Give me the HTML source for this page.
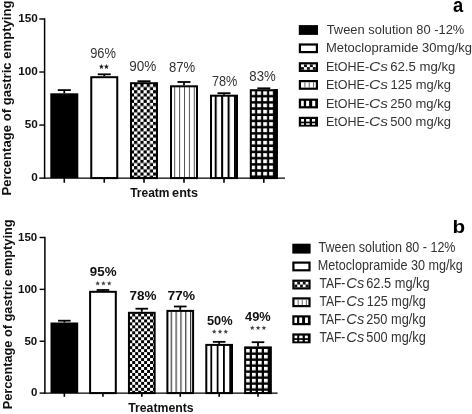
<!DOCTYPE html>
<html><head><meta charset="utf-8"><style>
html,body{margin:0;padding:0;background:#fff;}
svg{display:block;font-family:"Liberation Sans", sans-serif;filter:grayscale(1);}
</style></head><body>
<svg width="472" height="414" viewBox="0 0 472 414">
<defs>
<pattern id="chk" patternUnits="userSpaceOnUse" width="6.33" height="6.33" x="134.1" y="90.2"><rect width="6.33" height="6.33" fill="#fff"/><rect width="3.165" height="3.165" fill="#000"/><rect x="3.165" y="3.165" width="3.165" height="3.165" fill="#000"/></pattern>
<pattern id="thin" patternUnits="userSpaceOnUse" width="4.9" height="10" x="174.2" y="0"><rect width="4.9" height="10" fill="#fff"/><rect width="1" height="10" fill="#555"/></pattern>
<pattern id="thick" patternUnits="userSpaceOnUse" width="6.45" height="10" x="214.7" y="0"><rect width="6.45" height="10" fill="#fff"/><rect width="2" height="10" fill="#000"/></pattern>
<pattern id="grid" patternUnits="userSpaceOnUse" width="6.0" height="6.2" x="251.2" y="91.2"><rect width="6.0" height="6.2" fill="#000"/><rect width="3.8" height="3.7" fill="#fff"/></pattern>
<pattern id="chkB" patternUnits="userSpaceOnUse" width="5.95" height="5.95" x="132.2" y="319.4"><rect width="5.95" height="5.95" fill="#fff"/><rect width="2.975" height="2.975" fill="#000"/><rect x="2.975" y="2.975" width="2.975" height="2.975" fill="#000"/></pattern>
<pattern id="thinB" patternUnits="userSpaceOnUse" width="4.83" height="10" x="170.7" y="0"><rect width="4.83" height="10" fill="#fff"/><rect width="1.2" height="10" fill="#333"/></pattern>
<pattern id="thickB" patternUnits="userSpaceOnUse" width="6.3" height="10" x="210.4" y="0"><rect width="6.3" height="10" fill="#fff"/><rect width="1.8" height="10" fill="#000"/></pattern>
<pattern id="gridB" patternUnits="userSpaceOnUse" width="6.0" height="5.98" x="246" y="348.9"><rect width="6.0" height="5.98" fill="#000"/><rect width="3.7" height="3.5" fill="#fff"/></pattern>
<pattern id="lchk" patternUnits="userSpaceOnUse" width="4" height="4"><rect width="4" height="4" fill="#fff"/><rect width="2" height="2" fill="#000"/><rect x="2" y="2" width="2" height="2" fill="#000"/></pattern>
<pattern id="lthin" patternUnits="userSpaceOnUse" width="3.4" height="10"><rect width="3.4" height="10" fill="#fff"/><rect width="1" height="10" fill="#444"/></pattern>
<pattern id="lthick" patternUnits="userSpaceOnUse" width="4.6" height="10"><rect width="4.6" height="10" fill="#fff"/><rect width="1.6" height="10" fill="#000"/></pattern>
<pattern id="lgrid" patternUnits="userSpaceOnUse" width="4.6" height="4"><rect width="4.6" height="4" fill="#000"/><rect width="3" height="2.2" fill="#fff"/></pattern>
</defs>
<rect width="472" height="414" fill="#fff"/>
<rect x="50.30" y="93.30" width="28.00" height="84.80" fill="#000"/>
<line x1="64.30" y1="90.10" x2="64.30" y2="93.30" stroke="#000" stroke-width="1.8"/>
<line x1="57.80" y1="90.10" x2="70.80" y2="90.10" stroke="#000" stroke-width="1.8"/>
<line x1="64.30" y1="178.10" x2="64.30" y2="182.70" stroke="#000" stroke-width="1.6"/>
<rect x="91.25" y="77.20" width="26.00" height="100.90" fill="#fff" stroke="#000" stroke-width="2.0"/>
<line x1="104.25" y1="74.30" x2="104.25" y2="76.20" stroke="#000" stroke-width="1.8"/>
<line x1="97.75" y1="74.30" x2="110.75" y2="74.30" stroke="#000" stroke-width="1.8"/>
<line x1="104.25" y1="178.10" x2="104.25" y2="182.70" stroke="#000" stroke-width="1.6"/>
<rect x="131.00" y="83.20" width="26.00" height="94.90" fill="url(#chk)" stroke="#000" stroke-width="2.0"/>
<line x1="144.00" y1="81.20" x2="144.00" y2="82.20" stroke="#000" stroke-width="1.8"/>
<line x1="137.50" y1="81.20" x2="150.50" y2="81.20" stroke="#000" stroke-width="1.8"/>
<line x1="144.00" y1="178.10" x2="144.00" y2="182.70" stroke="#000" stroke-width="1.6"/>
<rect x="171.00" y="86.30" width="26.00" height="91.80" fill="url(#thin)" stroke="#000" stroke-width="2.0"/>
<line x1="184.00" y1="82.00" x2="184.00" y2="85.30" stroke="#000" stroke-width="1.8"/>
<line x1="177.50" y1="82.00" x2="190.50" y2="82.00" stroke="#000" stroke-width="1.8"/>
<line x1="184.00" y1="178.10" x2="184.00" y2="182.70" stroke="#000" stroke-width="1.6"/>
<rect x="211.00" y="95.70" width="26.00" height="82.40" fill="url(#thick)" stroke="#000" stroke-width="2.0"/>
<line x1="224.00" y1="93.20" x2="224.00" y2="94.70" stroke="#000" stroke-width="1.8"/>
<line x1="217.50" y1="93.20" x2="230.50" y2="93.20" stroke="#000" stroke-width="1.8"/>
<line x1="224.00" y1="178.10" x2="224.00" y2="182.70" stroke="#000" stroke-width="1.6"/>
<rect x="250.80" y="90.20" width="26.00" height="87.90" fill="url(#grid)" stroke="#000" stroke-width="2.0"/>
<line x1="263.80" y1="88.30" x2="263.80" y2="89.20" stroke="#000" stroke-width="1.8"/>
<line x1="257.30" y1="88.30" x2="270.30" y2="88.30" stroke="#000" stroke-width="1.8"/>
<line x1="263.80" y1="178.10" x2="263.80" y2="182.70" stroke="#000" stroke-width="1.6"/>
<line x1="44.60" y1="18.30" x2="44.60" y2="178.80" stroke="#000" stroke-width="1.5"/>
<line x1="43.90" y1="178.10" x2="285.00" y2="178.10" stroke="#000" stroke-width="1.4"/>
<line x1="39.30" y1="178.10" x2="44.60" y2="178.10" stroke="#000" stroke-width="1.4"/>
<text x="31.25" y="181.40" font-weight="bold" font-size="11.75" fill="#111">0</text>
<line x1="39.30" y1="125.06" x2="44.60" y2="125.06" stroke="#000" stroke-width="1.4"/>
<text x="24.71" y="128.37" font-weight="bold" font-size="11.75" fill="#111">50</text>
<line x1="39.30" y1="72.03" x2="44.60" y2="72.03" stroke="#000" stroke-width="1.4"/>
<text x="18.18" y="75.33" font-weight="bold" font-size="11.75" fill="#111">100</text>
<line x1="39.30" y1="19.00" x2="44.60" y2="19.00" stroke="#000" stroke-width="1.4"/>
<text x="18.18" y="22.30" font-weight="bold" font-size="11.75" fill="#111">150</text>
<rect x="273.4" y="89.2" width="4.4" height="88.5" fill="#000"/>
<rect x="50.50" y="322.50" width="27.70" height="70.60" fill="#000"/>
<line x1="64.35" y1="320.70" x2="64.35" y2="322.50" stroke="#000" stroke-width="1.8"/>
<line x1="58.05" y1="320.70" x2="70.65" y2="320.70" stroke="#000" stroke-width="1.8"/>
<line x1="64.35" y1="393.10" x2="64.35" y2="396.80" stroke="#000" stroke-width="1.6"/>
<rect x="90.10" y="291.80" width="25.70" height="101.30" fill="#fff" stroke="#000" stroke-width="2.0"/>
<line x1="102.95" y1="290.00" x2="102.95" y2="290.80" stroke="#000" stroke-width="1.8"/>
<line x1="96.65" y1="290.00" x2="109.25" y2="290.00" stroke="#000" stroke-width="1.8"/>
<line x1="102.95" y1="393.10" x2="102.95" y2="396.80" stroke="#000" stroke-width="1.6"/>
<rect x="128.95" y="312.80" width="25.70" height="80.30" fill="url(#chkB)" stroke="#000" stroke-width="2.0"/>
<line x1="141.80" y1="308.70" x2="141.80" y2="311.80" stroke="#000" stroke-width="1.8"/>
<line x1="135.50" y1="308.70" x2="148.10" y2="308.70" stroke="#000" stroke-width="1.8"/>
<line x1="141.80" y1="393.10" x2="141.80" y2="396.80" stroke="#000" stroke-width="1.6"/>
<rect x="167.40" y="310.90" width="25.70" height="82.20" fill="url(#thinB)" stroke="#000" stroke-width="2.0"/>
<line x1="180.25" y1="306.50" x2="180.25" y2="309.90" stroke="#000" stroke-width="1.8"/>
<line x1="173.95" y1="306.50" x2="186.55" y2="306.50" stroke="#000" stroke-width="1.8"/>
<line x1="180.25" y1="393.10" x2="180.25" y2="396.80" stroke="#000" stroke-width="1.6"/>
<rect x="206.30" y="344.90" width="25.70" height="48.20" fill="url(#thickB)" stroke="#000" stroke-width="2.0"/>
<line x1="219.15" y1="341.85" x2="219.15" y2="343.90" stroke="#000" stroke-width="1.8"/>
<line x1="212.85" y1="341.85" x2="225.45" y2="341.85" stroke="#000" stroke-width="1.8"/>
<line x1="219.15" y1="393.10" x2="219.15" y2="396.80" stroke="#000" stroke-width="1.6"/>
<rect x="245.15" y="347.40" width="25.70" height="45.70" fill="url(#gridB)" stroke="#000" stroke-width="2.0"/>
<line x1="258.00" y1="342.20" x2="258.00" y2="346.40" stroke="#000" stroke-width="1.8"/>
<line x1="251.70" y1="342.20" x2="264.30" y2="342.20" stroke="#000" stroke-width="1.8"/>
<line x1="258.00" y1="393.10" x2="258.00" y2="396.80" stroke="#000" stroke-width="1.6"/>
<line x1="44.90" y1="236.81" x2="44.90" y2="393.80" stroke="#000" stroke-width="1.5"/>
<line x1="44.20" y1="393.10" x2="277.60" y2="393.10" stroke="#000" stroke-width="1.4"/>
<line x1="39.60" y1="393.10" x2="44.90" y2="393.10" stroke="#000" stroke-width="1.4"/>
<text x="30.88" y="396.40" font-weight="bold" font-size="11.5" fill="#111">0</text>
<line x1="39.60" y1="341.24" x2="44.90" y2="341.24" stroke="#000" stroke-width="1.4"/>
<text x="24.48" y="344.54" font-weight="bold" font-size="11.5" fill="#111">50</text>
<line x1="39.60" y1="289.37" x2="44.90" y2="289.37" stroke="#000" stroke-width="1.4"/>
<text x="18.08" y="292.67" font-weight="bold" font-size="11.5" fill="#111">100</text>
<line x1="39.60" y1="237.50" x2="44.90" y2="237.50" stroke="#000" stroke-width="1.4"/>
<text x="18.08" y="240.81" font-weight="bold" font-size="11.5" fill="#111">150</text>
<rect x="298.80" y="25.10" width="19.20" height="9.80" fill="#000"/>
<rect x="298.80" y="43.40" width="19.20" height="9.80" fill="#000"/>
<rect x="301.00" y="45.60" width="14.80" height="5.40" fill="#fff"/>
<rect x="298.80" y="62.20" width="19.20" height="9.80" fill="#000"/>
<rect x="301.00" y="64.40" width="14.80" height="5.40" fill="#fff"/>
<rect x="303.96" y="64.40" width="2.96" height="2.70" fill="#111"/>
<rect x="309.88" y="64.40" width="2.96" height="2.70" fill="#111"/>
<rect x="301.00" y="67.10" width="2.96" height="2.70" fill="#111"/>
<rect x="306.92" y="67.10" width="2.96" height="2.70" fill="#111"/>
<rect x="312.84" y="67.10" width="2.96" height="2.70" fill="#111"/>
<rect x="298.80" y="80.00" width="19.20" height="9.80" fill="#000"/>
<rect x="301.00" y="82.20" width="14.80" height="5.40" fill="#fff"/>
<rect x="304.40" y="82.20" width="1.00" height="5.40" fill="#666"/>
<rect x="308.70" y="82.20" width="1.00" height="5.40" fill="#666"/>
<rect x="313.00" y="82.20" width="1.00" height="5.40" fill="#666"/>
<rect x="298.80" y="98.60" width="19.20" height="9.80" fill="#000"/>
<rect x="301.10" y="100.80" width="2.70" height="5.40" fill="#fff"/>
<rect x="306.10" y="100.80" width="3.00" height="5.40" fill="#fff"/>
<rect x="312.20" y="100.80" width="3.00" height="5.40" fill="#fff"/>
<rect x="298.80" y="116.80" width="19.20" height="9.80" fill="#000"/>
<rect x="301.10" y="119.00" width="2.90" height="2.60" fill="#fff"/>
<rect x="301.10" y="123.30" width="2.90" height="1.50" fill="#fff"/>
<rect x="306.10" y="119.00" width="3.50" height="2.60" fill="#fff"/>
<rect x="306.10" y="123.30" width="3.50" height="1.50" fill="#fff"/>
<rect x="312.00" y="119.00" width="3.10" height="2.60" fill="#fff"/>
<rect x="312.00" y="123.30" width="3.10" height="1.50" fill="#fff"/>
<rect x="292.30" y="243.70" width="18.30" height="9.90" fill="#000"/>
<rect x="292.30" y="261.50" width="18.30" height="9.90" fill="#000"/>
<rect x="294.50" y="263.70" width="13.90" height="5.50" fill="#fff"/>
<rect x="292.30" y="279.60" width="18.30" height="9.90" fill="#000"/>
<rect x="294.50" y="281.80" width="13.90" height="5.50" fill="#fff"/>
<rect x="297.28" y="281.80" width="2.78" height="2.75" fill="#111"/>
<rect x="302.84" y="281.80" width="2.78" height="2.75" fill="#111"/>
<rect x="294.50" y="284.55" width="2.78" height="2.75" fill="#111"/>
<rect x="300.06" y="284.55" width="2.78" height="2.75" fill="#111"/>
<rect x="305.62" y="284.55" width="2.78" height="2.75" fill="#111"/>
<rect x="292.30" y="297.30" width="18.30" height="9.90" fill="#000"/>
<rect x="294.50" y="299.50" width="13.90" height="5.50" fill="#fff"/>
<rect x="297.64" y="299.50" width="1.00" height="5.50" fill="#666"/>
<rect x="301.74" y="299.50" width="1.00" height="5.50" fill="#666"/>
<rect x="305.83" y="299.50" width="1.00" height="5.50" fill="#666"/>
<rect x="292.30" y="315.30" width="18.30" height="9.90" fill="#000"/>
<rect x="294.49" y="317.50" width="2.57" height="5.50" fill="#fff"/>
<rect x="299.26" y="317.50" width="2.86" height="5.50" fill="#fff"/>
<rect x="305.07" y="317.50" width="2.86" height="5.50" fill="#fff"/>
<rect x="292.30" y="333.40" width="18.30" height="9.90" fill="#000"/>
<rect x="294.49" y="335.60" width="2.76" height="2.60" fill="#fff"/>
<rect x="294.49" y="339.90" width="2.76" height="1.50" fill="#fff"/>
<rect x="299.26" y="335.60" width="3.34" height="2.60" fill="#fff"/>
<rect x="299.26" y="339.90" width="3.34" height="1.50" fill="#fff"/>
<rect x="304.88" y="335.60" width="2.95" height="2.60" fill="#fff"/>
<rect x="304.88" y="339.90" width="2.95" height="1.50" fill="#fff"/>
<text transform="translate(90.20 58.30) scale(0.9361 1)" font-size="13.75" font-weight="normal" fill="#333">96%</text>
<text transform="translate(129.26 71.20) scale(0.9854 1)" font-size="13.75" font-weight="normal" fill="#333">90%</text>
<text transform="translate(169.03 72.00) scale(0.9534 1)" font-size="13.75" font-weight="normal" fill="#333">87%</text>
<text transform="translate(211.95 85.90) scale(0.9231 1)" font-size="13.75" font-weight="normal" fill="#333">78%</text>
<text transform="translate(249.33 80.70) scale(0.9609 1)" font-size="13.75" font-weight="normal" fill="#333">83%</text>
<polygon points="101.40,64.00 102.11,65.73 103.97,65.87 102.54,67.07 102.99,68.88 101.40,67.90 99.81,68.88 100.26,67.07 98.83,65.87 100.69,65.73" fill="#222"/>
<polygon points="106.40,64.00 107.11,65.73 108.97,65.87 107.54,67.07 107.99,68.88 106.40,67.90 104.81,68.88 105.26,67.07 103.83,65.87 105.69,65.73" fill="#222"/>
<text transform="translate(130.17 197.20) scale(0.9540 1)" font-size="12.6" font-weight="bold" fill="#111">Treatm</text>
<text transform="translate(172.11 197.20) scale(1.0041 1)" font-size="12.6" font-weight="bold" fill="#111">ents</text>
<text x="0.00" y="0.00" font-size="13.1" font-weight="bold" fill="#111" text-anchor="middle" transform="translate(10.8 98.1) rotate(-90)">Percentage of gastric emptying</text>
<text transform="translate(326.71 33.55) scale(0.9413 1)" font-size="13.7" font-weight="normal" fill="#333">Tween solution 80 -12%</text>
<text transform="translate(325.93 51.85) scale(0.9499 1)" font-size="13.7" font-weight="normal" fill="#333">Metoclopramide 30mg/kg</text>
<text transform="translate(325.97 70.50) scale(0.9151 1)" font-size="13.7" font-weight="normal" fill="#333">EtOHE-</text>
<text transform="translate(368.94 70.50) scale(1.1333 1)" font-size="13.7" font-weight="normal" font-style="italic" fill="#333">Cs</text>
<text transform="translate(390.13 70.50) scale(0.9638 1)" font-size="13.7" font-weight="normal" fill="#333">62.5 mg/kg</text>
<text transform="translate(325.97 88.80) scale(0.9151 1)" font-size="13.7" font-weight="normal" fill="#333">EtOHE-</text>
<text transform="translate(368.94 88.80) scale(1.1333 1)" font-size="13.7" font-weight="normal" font-style="italic" fill="#333">Cs</text>
<text transform="translate(390.61 88.80) scale(0.9445 1)" font-size="13.7" font-weight="normal" fill="#333">125 mg/kg</text>
<text transform="translate(325.97 107.60) scale(0.9151 1)" font-size="13.7" font-weight="normal" fill="#333">EtOHE-</text>
<text transform="translate(368.94 107.60) scale(1.1333 1)" font-size="13.7" font-weight="normal" font-style="italic" fill="#333">Cs</text>
<text transform="translate(390.14 107.60) scale(0.9519 1)" font-size="13.7" font-weight="normal" fill="#333">250 mg/kg</text>
<text transform="translate(325.97 125.50) scale(0.9151 1)" font-size="13.7" font-weight="normal" fill="#333">EtOHE-</text>
<text transform="translate(368.94 125.50) scale(1.1333 1)" font-size="13.7" font-weight="normal" font-style="italic" fill="#333">Cs</text>
<text transform="translate(390.28 125.50) scale(0.9498 1)" font-size="13.7" font-weight="normal" fill="#333">500 mg/kg</text>
<text transform="translate(452.96 12.40) scale(0.9190 1)" font-size="20" font-weight="bold" fill="#000">a</text>
<text transform="translate(89.84 275.90) scale(1.0267 1)" font-size="13" font-weight="bold" fill="#111">95%</text>
<text transform="translate(129.42 299.80) scale(1.0391 1)" font-size="13" font-weight="bold" fill="#111">78%</text>
<text transform="translate(167.40 299.80) scale(1.0670 1)" font-size="13" font-weight="bold" fill="#111">77%</text>
<text transform="translate(206.91 325.00) scale(0.9851 1)" font-size="13" font-weight="bold" fill="#111">50%</text>
<text transform="translate(245.11 320.50) scale(0.9851 1)" font-size="13" font-weight="bold" fill="#111">49%</text>
<polygon points="97.65,281.10 98.30,282.61 99.93,282.76 98.70,283.84 99.06,285.44 97.65,284.60 96.24,285.44 96.60,283.84 95.37,282.76 97.00,282.61" fill="#444"/>
<polygon points="103.45,281.10 104.10,282.61 105.73,282.76 104.50,283.84 104.86,285.44 103.45,284.60 102.04,285.44 102.40,283.84 101.17,282.76 102.80,282.61" fill="#444"/>
<polygon points="109.25,281.10 109.90,282.61 111.53,282.76 110.30,283.84 110.66,285.44 109.25,284.60 107.84,285.44 108.20,283.84 106.97,282.76 108.60,282.61" fill="#444"/>
<polygon points="214.20,329.30 214.85,330.81 216.48,330.96 215.25,332.04 215.61,333.64 214.20,332.80 212.79,333.64 213.15,332.04 211.92,330.96 213.55,330.81" fill="#444"/>
<polygon points="220.00,329.30 220.65,330.81 222.28,330.96 221.05,332.04 221.41,333.64 220.00,332.80 218.59,333.64 218.95,332.04 217.72,330.96 219.35,330.81" fill="#444"/>
<polygon points="225.80,329.30 226.45,330.81 228.08,330.96 226.85,332.04 227.21,333.64 225.80,332.80 224.39,333.64 224.75,332.04 223.52,330.96 225.15,330.81" fill="#444"/>
<polygon points="252.30,325.60 252.95,327.11 254.58,327.26 253.35,328.34 253.71,329.94 252.30,329.10 250.89,329.94 251.25,328.34 250.02,327.26 251.65,327.11" fill="#444"/>
<polygon points="258.10,325.60 258.75,327.11 260.38,327.26 259.15,328.34 259.51,329.94 258.10,329.10 256.69,329.94 257.05,328.34 255.82,327.26 257.45,327.11" fill="#444"/>
<polygon points="263.90,325.60 264.55,327.11 266.18,327.26 264.95,328.34 265.31,329.94 263.90,329.10 262.49,329.94 262.85,328.34 261.62,327.26 263.25,327.11" fill="#444"/>
<text transform="translate(128.16 412.30) scale(0.9991 1)" font-size="12.3" font-weight="bold" fill="#111">Treatments</text>
<text x="0.00" y="0.00" font-size="12.75" font-weight="bold" fill="#111" text-anchor="middle" transform="translate(12 314.4) rotate(-90)">Percentage of gastric emptying</text>
<text transform="translate(318.52 251.60) scale(0.8812 1)" font-size="14.2" font-weight="normal" fill="#333">Tween solution 80 - 12%</text>
<text transform="translate(317.76 269.90) scale(0.8890 1)" font-size="14.2" font-weight="normal" fill="#333">Metoclopramide 30 mg/kg</text>
<text transform="translate(319.43 288.40) scale(0.8714 1)" font-size="13.9" font-weight="normal" fill="#333">TAF-</text>
<text transform="translate(346.29 288.40) scale(1.0605 1)" font-size="13.9" font-weight="normal" font-style="italic" fill="#333">Cs</text>
<text transform="translate(366.15 288.40) scale(0.9246 1)" font-size="13.9" font-weight="normal" fill="#333">62.5 mg/kg</text>
<text transform="translate(319.43 306.30) scale(0.8714 1)" font-size="13.9" font-weight="normal" fill="#333">TAF-</text>
<text transform="translate(346.29 306.30) scale(1.0605 1)" font-size="13.9" font-weight="normal" font-style="italic" fill="#333">Cs</text>
<text transform="translate(366.74 306.30) scale(0.9102 1)" font-size="13.9" font-weight="normal" fill="#333">125 mg/kg</text>
<text transform="translate(319.43 324.00) scale(0.8714 1)" font-size="13.9" font-weight="normal" fill="#333">TAF-</text>
<text transform="translate(346.29 324.00) scale(1.0605 1)" font-size="13.9" font-weight="normal" font-style="italic" fill="#333">Cs</text>
<text transform="translate(366.16 324.00) scale(0.9193 1)" font-size="13.9" font-weight="normal" fill="#333">250 mg/kg</text>
<text transform="translate(319.43 341.80) scale(0.8714 1)" font-size="13.9" font-weight="normal" fill="#333">TAF-</text>
<text transform="translate(346.29 341.80) scale(1.0605 1)" font-size="13.9" font-weight="normal" font-style="italic" fill="#333">Cs</text>
<text transform="translate(366.29 341.80) scale(0.9172 1)" font-size="13.9" font-weight="normal" fill="#333">500 mg/kg</text>
<text transform="translate(452.44 232.60) scale(1.1037 1)" font-size="18.7" font-weight="bold" fill="#000">b</text>
</svg>
</body></html>
